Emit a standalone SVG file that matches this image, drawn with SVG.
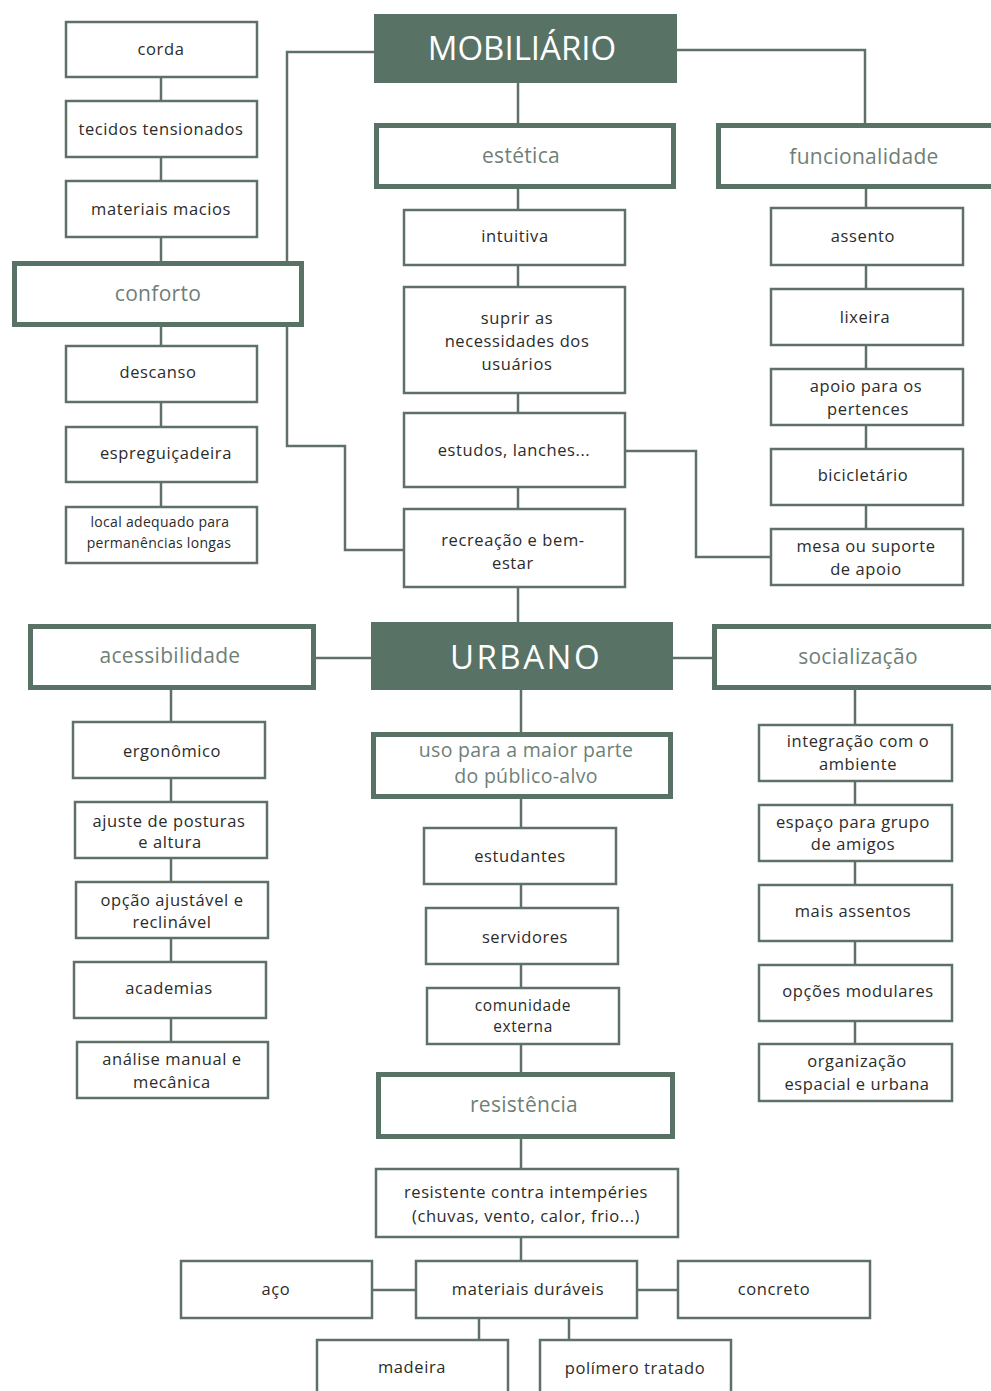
<svg xmlns="http://www.w3.org/2000/svg" width="991" height="1391" viewBox="0 0 991 1391">
<style>
.n rect{fill:#fff;stroke:#5f7068;stroke-width:2.5}
.h rect{fill:#fff;stroke:#587266;stroke-width:5}
.m rect{fill:#587266}
text{font-family:"Open Sans","Liberation Sans",sans-serif;text-anchor:middle}
.n text{font-size:16.5px;fill:#2b2b2b;letter-spacing:0.6px}
.n text.s{font-size:14px;letter-spacing:0.3px}
.n text.t{font-size:15.5px}
.h text{font-size:21px;fill:#6f7f78;letter-spacing:0.3px}
.h text.t{font-size:19.5px}
.m text{font-size:33px;fill:#fff}
.c path{stroke:#5f7068;stroke-width:2.5;fill:none}
</style>
<rect width="991" height="1391" fill="#fff"/>
<g class="c">
<path d="M161 77V101M161 157V181M161 237V261M161 327V346M161 402V427M161 482V507"/>
<path d="M374 52H287V261M287 327V446H345V550H404"/>
<path d="M677 50H865V123"/>
<path d="M518 83V123M518 189V210M518 265V287M518 393V413M518 487V509M518 587V622"/>
<path d="M625 451H696V557H771"/>
<path d="M866 189V208M866 265V289M866 345V369M866 425V449M866 505V529"/>
<path d="M316 658H371M673 658H712"/>
<path d="M171 689V722M171 778V802M171 858V882M171 938V962M171 1018V1042"/>
<path d="M521 690V732M521 799V828M521 884V908M521 964V988M521 1044V1072M521 1139V1169M521 1237V1261"/>
<path d="M372 1290H416M637 1290H678M479 1318V1340M569 1318V1340"/>
<path d="M855 689V725M855 781V805M855 861V885M855 941V965M855 1021V1044"/>
</g>
<g id="mobiliario" class="m"><rect x="374" y="14" width="303" height="69"/><text x="522" y="60">MOBILIÁRIO</text></g>
<g id="corda" class="n"><rect x="66" y="22" width="191" height="55"/><text x="161" y="55">corda</text></g>
<g id="tecidos" class="n"><rect x="66" y="101" width="191" height="56"/><text x="161" y="135">tecidos tensionados</text></g>
<g id="materiais-macios" class="n"><rect x="66" y="181" width="191" height="56"/><text x="161" y="215">materiais macios</text></g>
<g id="conforto" class="h"><rect x="14.5" y="263.5" width="287" height="61"/><text x="158" y="301">conforto</text></g>
<g id="descanso" class="n"><rect x="66" y="346" width="191" height="56"/><text x="158" y="378">descanso</text></g>
<g id="espreguicadeira" class="n"><rect x="66" y="427" width="191" height="55"/><text x="166" y="459">espreguiçadeira</text></g>
<g id="local" class="n"><rect x="66" y="507" width="191" height="56"/><text class="s" x="160" y="527">local adequado para</text><text class="s" x="159" y="548">permanências longas</text></g>
<g id="estetica" class="h"><rect x="376.5" y="125.5" width="297" height="61"/><text x="521" y="163">estética</text></g>
<g id="funcionalidade" class="h"><rect x="718.5" y="125.5" width="280" height="61"/><text x="864" y="164">funcionalidade</text></g>
<g id="intuitiva" class="n"><rect x="404" y="210" width="221" height="55"/><text x="515" y="242">intuitiva</text></g>
<g id="suprir" class="n"><rect x="404" y="287" width="221" height="106"/><text x="517" y="324">suprir as</text><text x="517" y="347">necessidades dos</text><text x="517" y="370">usuários</text></g>
<g id="estudos" class="n"><rect x="404" y="413" width="221" height="74"/><text x="514" y="456">estudos, lanches...</text></g>
<g id="recreacao" class="n"><rect x="404" y="509" width="221" height="78"/><text x="513" y="546">recreação e bem-</text><text x="513" y="569">estar</text></g>
<g id="assento" class="n"><rect x="771" y="208" width="192" height="57"/><text x="863" y="242">assento</text></g>
<g id="lixeira" class="n"><rect x="771" y="289" width="192" height="56"/><text x="865" y="323">lixeira</text></g>
<g id="apoio" class="n"><rect x="771" y="369" width="192" height="56"/><text x="866" y="392">apoio para os</text><text x="868" y="415">pertences</text></g>
<g id="bicicletario" class="n"><rect x="771" y="449" width="192" height="56"/><text x="863" y="481">bicicletário</text></g>
<g id="mesa" class="n"><rect x="771" y="529" width="192" height="56"/><text x="866" y="552">mesa ou suporte</text><text x="866" y="575">de apoio</text></g>
<g id="urbano" class="m"><rect x="371" y="622" width="302" height="68"/><text x="526" y="669" letter-spacing="2.5">URBANO</text></g>
<g id="acessibilidade" class="h"><rect x="30.5" y="626.5" width="283" height="61"/><text x="170" y="663">acessibilidade</text></g>
<g id="socializacao" class="h"><rect x="714.5" y="626.5" width="284" height="61"/><text x="858" y="664">socialização</text></g>
<g id="ergonomico" class="n"><rect x="73" y="722" width="192" height="56"/><text x="172" y="757">ergonômico</text></g>
<g id="ajuste" class="n"><rect x="75" y="802" width="192" height="56"/><text x="169" y="827">ajuste de posturas</text><text x="170" y="848">e altura</text></g>
<g id="opcao" class="n"><rect x="76" y="882" width="192" height="56"/><text x="172" y="906">opção ajustável e</text><text x="172" y="928">reclinável</text></g>
<g id="academias" class="n"><rect x="74" y="962" width="192" height="56"/><text x="169" y="994">academias</text></g>
<g id="analise" class="n"><rect x="77" y="1042" width="191" height="56"/><text x="172" y="1065">análise manual e</text><text x="172" y="1088">mecânica</text></g>
<g id="uso" class="h"><rect x="373.5" y="734.5" width="297" height="62"/><text class="t" x="526" y="757">uso para a maior parte</text><text class="t" x="526" y="783">do público-alvo</text></g>
<g id="estudantes" class="n"><rect x="424" y="828" width="192" height="56"/><text x="520" y="862">estudantes</text></g>
<g id="servidores" class="n"><rect x="426" y="908" width="192" height="56"/><text x="525" y="943">servidores</text></g>
<g id="comunidade" class="n"><rect x="427" y="988" width="192" height="56"/><text class="t" x="523" y="1011">comunidade</text><text class="t" x="523" y="1032">externa</text></g>
<g id="resistencia" class="h"><rect x="378.5" y="1074.5" width="294" height="62"/><text x="524" y="1112">resistência</text></g>
<g id="resistente" class="n"><rect x="376" y="1169" width="302" height="68"/><text x="526" y="1198">resistente contra intempéries</text><text x="526" y="1222">(chuvas, vento, calor, frio...)</text></g>
<g id="materiais-duraveis" class="n"><rect x="416" y="1261" width="221" height="57"/><text x="528" y="1295">materiais duráveis</text></g>
<g id="aco" class="n"><rect x="181" y="1261" width="191" height="57"/><text x="276" y="1295">aço</text></g>
<g id="concreto" class="n"><rect x="678" y="1261" width="192" height="57"/><text x="774" y="1295">concreto</text></g>
<g id="madeira" class="n"><rect x="317" y="1340" width="191" height="60"/><text x="412" y="1373">madeira</text></g>
<g id="polimero" class="n"><rect x="540" y="1340" width="191" height="60"/><text x="635" y="1374">polímero tratado</text></g>
<g id="integracao" class="n"><rect x="759" y="725" width="193" height="56"/><text x="858" y="747">integração com o</text><text x="858" y="770">ambiente</text></g>
<g id="espaco" class="n"><rect x="759" y="805" width="193" height="56"/><text x="853" y="828">espaço para grupo</text><text x="853" y="850">de amigos</text></g>
<g id="mais-assentos" class="n"><rect x="759" y="885" width="193" height="56"/><text x="853" y="917">mais assentos</text></g>
<g id="opcoes" class="n"><rect x="759" y="965" width="193" height="56"/><text x="858" y="997">opções modulares</text></g>
<g id="organizacao" class="n"><rect x="759" y="1044" width="193" height="57"/><text x="857" y="1067">organização</text><text x="857" y="1090">espacial e urbana</text></g>
</svg>
